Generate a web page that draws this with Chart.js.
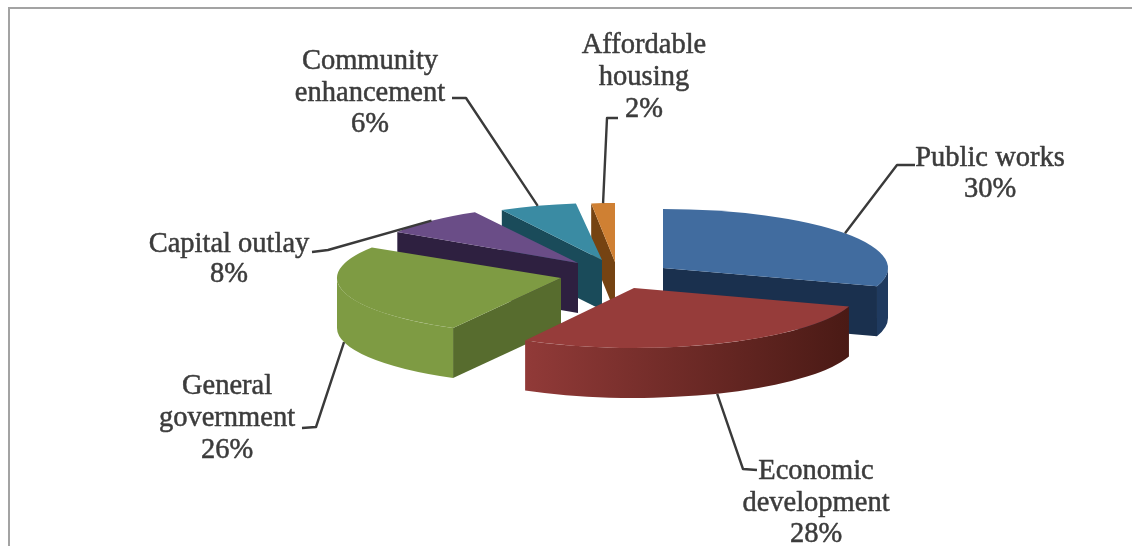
<!DOCTYPE html>
<html>
<head>
<meta charset="utf-8">
<title>Spending by category</title>
<script src="https://cdn.jsdelivr.net/npm/chart.js@4/dist/chart.umd.min.js"></script>
<style>
  html, body { margin: 0; padding: 0; background: #fff; }
  #wrap { width: 1132px; height: 546px; }
</style>
</head>
<body>
<div id="wrap"><canvas id="spendChart" width="1132" height="546"></canvas></div>
<script>
// Chart data
const categories = ['Public works', 'Economic development', 'General government', 'Capital outlay', 'Community enhancement', 'Affordable housing'];
const shares = [30, 28, 26, 8, 6, 2];

// Top faces and side walls of each slice
const topColors = ['#416c9f', '#963c3a', '#7e9b43', '#6a4d87', '#3a8ba3', '#cf8033'];
const cutColors = ['#1a304e', '#4a1a15', '#576c2e', '#2e2040', '#1a4b5a', '#754312'];
const wallColors = [['#1f3a5f', '#1f3a5f'], ['#913a38', '#4a1a15'], ['#7e9b43', '#7e9b43'], ['#2e2040', '#2e2040'], ['#1a4b5a', '#1a4b5a'], ['#754312', '#754312']];

// Where each exploded slice sits: tip position and ellipse radii
const sliceTips = [[663, 268], [634, 288], [561, 278], [578, 263], [602, 260], [615, 262]];
const sliceRadii = [[225, 59], [226, 60], [224, 57], [214, 58], [208, 57], [190, 59]];
const wallDepth = 50;
const drawOrder = [5, 4, 3, 2, 0, 1];

// Label text blocks: centre x and the y of each line
const labelLines = [
  ['Public works', '30%'],
  ['Economic', 'development', '28%'],
  ['General', 'government', '26%'],
  ['Capital outlay', '8%'],
  ['Community', 'enhancement', '6%'],
  ['Affordable', 'housing', '2%']
];
const labelCentres = [990, 816, 227, 229, 370, 644];
const labelTops = [157, 470, 385, 243, 60, 44];
const lineGaps = [31, 31.5, 32, 30, 31.5, 32];
const leaderElbows = [
  [[897, 165], [915, 165]],
  [[743, 469], [757, 470]],
  [[316, 427], [302, 428]],
  [[328, 250], [312, 252]],
  [[466, 98], [452, 98]],
  [[607, 118], [618, 118]]
];

const pie3d = {
  id: 'pie3d',
  beforeDraw(chart) {
    const { ctx } = chart;
    ctx.save();
    ctx.strokeStyle = '#a3a3a3';
    ctx.lineWidth = 2;
    ctx.beginPath();
    ctx.moveTo(9, 546);
    ctx.lineTo(9, 8);
    ctx.lineTo(1132, 8);
    ctx.stroke();
    ctx.restore();
  },
  // Slices are painted back to front here in place of the default pass
  beforeDatasetDraw(chart, args) {
    const { ctx } = chart;
    const arcs = args.meta.data;
    drawOrder.forEach(i => {
      const arc = arcs[i];
      const [tx, ty] = sliceTips[i];
      const [rx, ry] = sliceRadii[i];
      const a = arc.startAngle;
      const b = arc.endAngle;
      const px = t => tx + rx * Math.cos(t);
      const py = t => ty + ry * Math.sin(t);

      // radial cut faces that turn towards the viewer
      const cut = t => {
        ctx.beginPath();
        ctx.moveTo(tx, ty);
        ctx.lineTo(px(t), py(t));
        ctx.lineTo(px(t), py(t) + wallDepth);
        ctx.lineTo(tx, ty + wallDepth);
        ctx.closePath();
        ctx.fillStyle = cutColors[i];
        ctx.fill();
      };
      if (Math.sin(a - Math.PI / 2) > 0.01) cut(a);
      if (Math.cos(b) > 0.01) cut(b);

      // outer wall, only the part on the near side of the ellipse
      const from = Math.max(a, 0);
      const to = Math.min(b, Math.PI);
      if (to > from) {
        const grad = ctx.createLinearGradient(px(to), 0, px(from), 0);
        grad.addColorStop(0, wallColors[i][0]);
        grad.addColorStop(1, wallColors[i][1]);
        ctx.beginPath();
        ctx.ellipse(tx, ty, rx, ry, 0, from, to);
        ctx.ellipse(tx, ty + wallDepth, rx, ry, 0, to, from, true);
        ctx.closePath();
        ctx.fillStyle = grad;
        ctx.fill();
      }

      // top face: the library's own arc, flattened onto the ellipse
      ctx.save();
      ctx.translate(tx, ty);
      ctx.scale(rx / arc.outerRadius, ry / arc.outerRadius);
      ctx.translate(-arc.x, -arc.y);
      arc.draw(ctx);
      ctx.restore();
    });
    return false;
  },
  afterDatasetsDraw(chart) {
    const { ctx } = chart;
    const arcs = chart.getDatasetMeta(0).data;
    ctx.save();
    ctx.strokeStyle = '#3a3a3a';
    ctx.lineWidth = 2.4;
    ctx.lineJoin = 'round';
    arcs.forEach((arc, i) => {
      const mid = (arc.startAngle + arc.endAngle) / 2;
      const [tx, ty] = sliceTips[i];
      const [rx, ry] = sliceRadii[i];
      // near-side slices hang their leader from the bottom of the wall
      const drop = Math.sin(mid) > 0.1 && mid > Math.PI / 4 ? wallDepth : 0;
      ctx.beginPath();
      ctx.moveTo(tx + rx * Math.cos(mid), ty + ry * Math.sin(mid) + drop);
      leaderElbows[i].forEach(p => ctx.lineTo(p[0], p[1]));
      ctx.stroke();
    });
    ctx.fillStyle = '#3c3c3c';
    ctx.strokeStyle = '#3c3c3c';
    ctx.lineWidth = 0.5;
    ctx.font = '28.5px "Liberation Serif"';
    ctx.textAlign = 'center';
    ctx.textBaseline = 'middle';
    labelLines.forEach((lines, i) => {
      lines.forEach((line, k) => {
        const y = labelTops[i] + 2 + k * lineGaps[i];
        ctx.fillText(line, labelCentres[i], y);
        ctx.strokeText(line, labelCentres[i], y);
      });
    });
    ctx.restore();
  }
};

new Chart(document.getElementById('spendChart'), {
  type: 'pie',
  data: {
    labels: categories,
    datasets: [{ data: shares, backgroundColor: topColors, borderWidth: 0 }]
  },
  options: {
    responsive: false,
    animation: false,
    radius: 225,
    plugins: { legend: { display: false }, tooltip: { enabled: false } }
  },
  plugins: [pie3d]
});
</script>
</body>
</html>
